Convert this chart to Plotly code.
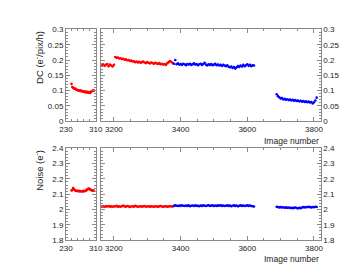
import plotly.graph_objects as go

# ---------------- data ----------------
# image numbers (sampled every few images)
small_x = list(range(245, 306, 2))
red_x = list(range(3164, 3377, 4))
blue_x = list(range(3380, 3621, 4))
blue2_x = list(range(3688, 3809, 4))

dc_small = [0.122, 0.112, 0.110, 0.108, 0.106, 0.107, 0.104, 0.103, 0.101, 0.102,
            0.100, 0.099, 0.101, 0.098, 0.099, 0.097, 0.098, 0.096, 0.095, 0.097,
            0.094, 0.096, 0.093, 0.095, 0.094, 0.092, 0.096, 0.098, 0.099, 0.101, 0.100]

dc_red = [0.182, 0.186, 0.181, 0.184, 0.187, 0.180, 0.185, 0.182, 0.179, 0.184,
          0.210, 0.207, 0.208, 0.205, 0.206, 0.203, 0.204, 0.201, 0.202, 0.199,
          0.200, 0.197, 0.198, 0.195, 0.196, 0.193, 0.195, 0.192, 0.194, 0.191,
          0.193, 0.195, 0.192, 0.190, 0.193, 0.191, 0.189, 0.192, 0.190, 0.188,
          0.191, 0.189, 0.187, 0.190, 0.186, 0.188, 0.185, 0.187, 0.184, 0.189,
          0.193, 0.197, 0.194, 0.190]

dc_blue = [0.188, 0.200, 0.186, 0.189, 0.185, 0.187, 0.184, 0.188, 0.186, 0.183,
           0.187, 0.185, 0.188, 0.184, 0.186, 0.189, 0.185, 0.187, 0.183, 0.186,
           0.188, 0.184, 0.187, 0.191, 0.185, 0.182, 0.186, 0.184, 0.187, 0.183,
           0.185, 0.188, 0.183, 0.185, 0.182, 0.184, 0.181, 0.184, 0.182, 0.180,
           0.183, 0.178, 0.176, 0.179, 0.174, 0.177, 0.172, 0.176, 0.180, 0.177,
           0.182, 0.179, 0.184, 0.180, 0.183, 0.186, 0.181, 0.184, 0.180, 0.183, 0.182]

dc_blue2 = [0.088, 0.082, 0.078, 0.074, 0.076, 0.071, 0.073, 0.070, 0.072, 0.069,
            0.071, 0.068, 0.070, 0.067, 0.069, 0.066, 0.068, 0.065, 0.067, 0.064,
            0.066, 0.063, 0.065, 0.062, 0.064, 0.061, 0.063, 0.058, 0.062, 0.068, 0.077]

noise_small = [2.125, 2.127, 2.140, 2.135, 2.128, 2.124, 2.122, 2.123, 2.121, 2.120,
               2.122, 2.119, 2.121, 2.120, 2.118, 2.120, 2.122, 2.119, 2.121, 2.123,
               2.126, 2.130, 2.134, 2.137, 2.135, 2.132, 2.128, 2.126, 2.125, 2.124, 2.123]

noise_red = [2.019, 2.022, 2.018, 2.021, 2.020, 2.023, 2.019, 2.021, 2.018, 2.022,
             2.020, 2.024, 2.019, 2.021, 2.018, 2.022, 2.026, 2.020, 2.019, 2.023,
             2.021, 2.017, 2.020, 2.022, 2.019, 2.024, 2.021, 2.018, 2.020, 2.022,
             2.019, 2.021, 2.023, 2.018, 2.020, 2.022, 2.019, 2.021, 2.020, 2.018,
             2.022, 2.020, 2.019, 2.021, 2.023, 2.020, 2.018, 2.021, 2.022, 2.019,
             2.020, 2.022, 2.021, 2.020]

noise_blue = [2.024, 2.027, 2.025, 2.023, 2.026, 2.024, 2.028, 2.025, 2.023, 2.026,
              2.024, 2.027, 2.022, 2.025, 2.026, 2.023, 2.027, 2.024, 2.025, 2.022,
              2.026, 2.024, 2.027, 2.025, 2.023, 2.026, 2.028, 2.024, 2.025, 2.027,
              2.023, 2.026, 2.024, 2.027, 2.025, 2.028, 2.024, 2.026, 2.023, 2.025,
              2.027, 2.024, 2.026, 2.022, 2.025, 2.027, 2.024, 2.026, 2.021, 2.025,
              2.027, 2.024, 2.026, 2.023, 2.025, 2.028, 2.024, 2.026, 2.023, 2.022, 2.020]

noise_blue2 = [2.018, 2.016, 2.014, 2.016, 2.013, 2.015, 2.012, 2.014, 2.011, 2.013,
               2.010, 2.012, 2.009, 2.011, 2.013, 2.010, 2.008, 2.011, 2.009, 2.013,
               2.016, 2.014, 2.017, 2.015, 2.018, 2.016, 2.014, 2.017, 2.015, 2.018, 2.017]

dc_ticks = [0, 0.05, 0.1, 0.15, 0.2, 0.25, 0.3]
dc_tick_text = ["0", "0.05", "0.1", "0.15", "0.2", "0.25", "0.3"]
noise_ticks = [1.8, 1.9, 2.0, 2.1, 2.2, 2.3, 2.4]
noise_tick_text = ["1.8", "1.9", "2", "2.1", "2.2", "2.3", "2.4"]
small_xticks = [230, 310]
big_xticks = [3200, 3400, 3600, 3800]

RED = "#ff0000"
BLUE = "#0000ff"
FRAME = "#8a8a8a"
FONT = "Liberation Sans"

fig = go.Figure()

def add(x, y, color, xa, ya):
    fig.add_trace(go.Scatter(x=x, y=y, mode="markers", xaxis=xa, yaxis=ya,
                             marker=dict(color=color, size=2.6, symbol="circle", line=dict(width=0)),
                             showlegend=False, hoverinfo="skip"))

add(small_x, dc_small, RED, "x", "y")
add(red_x, dc_red, RED, "x2", "y2")
add(blue_x, dc_blue, BLUE, "x2", "y2")
add(blue2_x, dc_blue2, BLUE, "x2", "y2")
add(small_x, noise_small, RED, "x3", "y3")
add(red_x, noise_red, RED, "x4", "y4")
add(blue_x, noise_blue, BLUE, "x4", "y4")
add(blue2_x, noise_blue2, BLUE, "x4", "y4")

W, H = 361, 271
def px_x(a, b):
    return [a / W, b / W]
def px_y(top, bottom):
    return [(H - bottom) / H, (H - top) / H]

small_dom = px_x(53, 84)
big_dom = px_x(89, 318)
top_dom = px_y(18, 113)
bot_dom = px_y(141, 236)

common = dict(showline=True, linecolor=FRAME, linewidth=1, mirror="allticks",
              ticks="inside", tickcolor=FRAME, ticklen=4, tickwidth=1,
              showgrid=False, zeroline=False,
              tickfont=dict(family=FONT, size=8, color="#222222"))

def xsmall(anchor, dom):
    return dict(common, domain=dom, anchor=anchor, range=[230, 310],
                tickvals=small_xticks, ticktext=[str(v) for v in small_xticks],
                minor=dict(ticks="inside", ticklen=2, tickcolor=FRAME, tickvals=[246, 262, 278, 294]))

def xbig(anchor, dom):
    return dict(common, domain=dom, anchor=anchor, range=[3160, 3820],
                tickvals=big_xticks, ticktext=[str(v) for v in big_xticks],
                minor=dict(ticks="inside", ticklen=2, tickcolor=FRAME, dtick=50, tick0=3200))

def ydc(anchor, dom, side, show):
    return dict(common, domain=dom, anchor=anchor, range=[0, 0.3], side=side,
                tickvals=dc_ticks, ticktext=dc_tick_text, showticklabels=show,
                minor=dict(ticks="inside", ticklen=2, tickcolor=FRAME, dtick=0.01, tick0=0))

def ynoise(anchor, dom, side, show):
    return dict(common, domain=dom, anchor=anchor, range=[1.8, 2.4], side=side,
                tickvals=noise_ticks, ticktext=noise_tick_text, showticklabels=show,
                minor=dict(ticks="inside", ticklen=2, tickcolor=FRAME, dtick=0.02, tick0=1.8))

fig.update_layout(
    width=W, height=H,
    margin=dict(l=0, r=0, t=0, b=0),
    paper_bgcolor="white", plot_bgcolor="white",
    xaxis=xsmall("y", small_dom),
    xaxis2=xbig("y2", big_dom),
    xaxis3=xsmall("y3", small_dom),
    xaxis4=xbig("y4", big_dom),
    yaxis=ydc("x", top_dom, "left", True),
    yaxis2=ydc("x2", top_dom, "right", True),
    yaxis3=ynoise("x3", bot_dom, "left", True),
    yaxis4=ynoise("x4", bot_dom, "right", True),
)

title_font = dict(family=FONT, size=9.5, color="#222222")
label_font = dict(family=FONT, size=8.5, color="#222222")
fig.add_annotation(text="DC (e<sup>-</sup>/pix/h)", xref="paper", yref="paper",
                   x=25 / W, y=top_dom[1], xanchor="center", yanchor="top",
                   textangle=-90, showarrow=False, font=title_font)
fig.add_annotation(text="Noise (e<sup>-</sup>)", xref="paper", yref="paper",
                   x=25 / W, y=bot_dom[1], xanchor="center", yanchor="top",
                   textangle=-90, showarrow=False, font=title_font)
fig.add_annotation(text="Image number", xref="paper", yref="paper",
                   x=318 / W, y=(H - 133) / H, xanchor="right", yanchor="middle",
                   showarrow=False, font=label_font)
fig.add_annotation(text="Image number", xref="paper", yref="paper",
                   x=318 / W, y=(H - 256) / H, xanchor="right", yanchor="middle",
                   showarrow=False, font=label_font)

fig.write_html("out.html")
